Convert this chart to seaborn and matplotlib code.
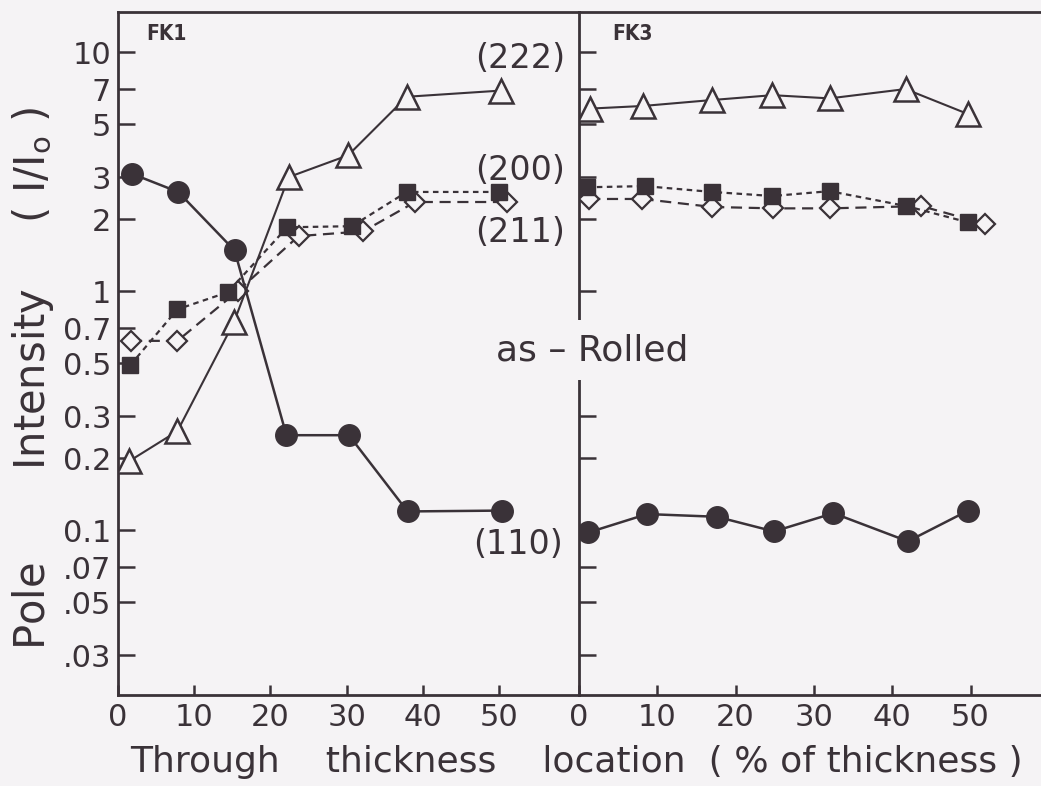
import matplotlib
matplotlib.use("Agg")
import matplotlib.pyplot as plt
import matplotlib.ticker as mticker
import seaborn as sns

# ---------------- data ----------------
# FK1 panel
fk1_x110 = [1.8, 7.9, 15.3, 22.1, 30.3, 38.0, 50.4]
fk1_y110 = [3.1, 2.6, 1.48, 0.25, 0.25, 0.12, 0.121]
fk1_x222 = [1.5, 7.8, 15.2, 22.4, 30.2, 37.9, 50.3]
fk1_y222 = [0.195, 0.26, 0.74, 3.0, 3.7, 6.5, 6.9]
fk1_x200 = [1.6, 7.8, 14.4, 22.2, 30.7, 37.9, 50.0]
fk1_y200 = [0.49, 0.84, 0.99, 1.85, 1.87, 2.6, 2.6]
fk1_x211 = [1.7, 7.8, 15.7, 23.7, 32.2, 39.0, 51.0]
fk1_y211 = [0.62, 0.62, 1.0, 1.70, 1.78, 2.36, 2.36]

# FK3 panel
fk3_x110 = [1.2, 8.7, 17.6, 24.9, 32.5, 42.0, 49.7]
fk3_y110 = [0.098, 0.117, 0.114, 0.099, 0.118, 0.090, 0.121]
fk3_x222 = [1.4, 8.2, 17.0, 24.7, 32.0, 41.7, 49.7]
fk3_y222 = [5.8, 5.95, 6.3, 6.6, 6.4, 7.0, 5.5]
fk3_x200 = [1.0, 8.4, 17.0, 24.7, 32.0, 41.8, 49.7]
fk3_y200 = [2.72, 2.75, 2.60, 2.50, 2.62, 2.27, 1.94]
fk3_x211 = [1.3, 8.1, 17.0, 24.8, 32.1, 43.7, 51.9]
fk3_y211 = [2.43, 2.43, 2.25, 2.22, 2.22, 2.27, 1.91]

y_ticks = [10, 7, 5, 3, 2, 1, 0.7, 0.5, 0.3, 0.2, 0.1, 0.07, 0.05, 0.03]
y_tick_labels = ["10", "7", "5", "3", "2", "1", "0.7", "0.5", "0.3", "0.2",
                 "0.1", ".07", ".05", ".03"]
x_ticks = [0, 10, 20, 30, 40, 50]
x_tick_labels = ["0", "10", "20", "30", "40", "50"]

panel_names = ["FK1", "FK3"]
series_labels = ["(222)", "(200)", "(211)", "(110)"]
annotation_text = "as \u2013 Rolled"
x_label = "Through    thickness    location  ( % of thickness )"
y_label = "Pole       Intensity     ( I/I$_\\mathregular{o}$ )"

# ---------------- style ----------------
sns.set_theme(style="white")
plt.rcParams["font.family"] = ["DejaVu Sans"]
INK = "#3a3238"
BG = "#f5f3f5"

W, H = 1041, 786
fig = plt.figure(figsize=(W / 100, H / 100), dpi=100, facecolor=BG)

def px_rect(x0, y0, x1, y1):
    return [x0 / W, 1 - y1 / H, (x1 - x0) / W, (y1 - y0) / H]

ax1 = fig.add_axes(px_rect(118, 12, 579, 695))
ax2 = fig.add_axes(px_rect(579, 12, 1041, 695))

panels = [
    (ax1, (fk1_x110, fk1_y110), (fk1_x222, fk1_y222), (fk1_x200, fk1_y200),
     (fk1_x211, fk1_y211), (0.0, 60.5)),
    (ax2, (fk3_x110, fk3_y110), (fk3_x222, fk3_y222), (fk3_x200, fk3_y200),
     (fk3_x211, fk3_y211), (0.0, 59.0)),
]

for ax, s110, s222, s200, s211, xlim in panels:
    ax.set_facecolor(BG)
    # (211) dashed, open diamonds
    sns.lineplot(x=s211[0], y=s211[1], ax=ax, color=INK, lw=1.6,
                 linestyle=(0, (5, 3)), marker="D", markersize=10,
                 markerfacecolor=BG, markeredgecolor=INK, markeredgewidth=1.6,
                 estimator=None, sort=False, zorder=3)
    # (200) short dashes, filled squares
    sns.lineplot(x=s200[0], y=s200[1], ax=ax, color=INK, lw=1.6,
                 linestyle=(0, (2.5, 2)), marker="s", markersize=12,
                 markerfacecolor=INK, markeredgecolor=INK, markeredgewidth=1,
                 estimator=None, sort=False, zorder=4)
    # (222) solid, open triangles
    sns.lineplot(x=s222[0], y=s222[1], ax=ax, color=INK, lw=1.5,
                 linestyle="-", marker="^", markersize=17,
                 markerfacecolor=BG, markeredgecolor=INK, markeredgewidth=1.8,
                 estimator=None, sort=False, zorder=3)
    # (110) solid, filled circles
    sns.lineplot(x=s110[0], y=s110[1], ax=ax, color=INK, lw=1.8,
                 linestyle="-", marker="o", markersize=15.5,
                 markerfacecolor=INK, markeredgecolor=INK, markeredgewidth=1,
                 estimator=None, sort=False, zorder=4)

    ax.set_yscale("log")
    ax.set_ylim(0.0205, 14.7)
    ax.set_xlim(*xlim)
    ax.set_yticks(y_ticks)
    ax.yaxis.set_minor_locator(mticker.NullLocator())
    ax.set_xticks(x_ticks)
    ax.set_xticklabels(x_tick_labels)
    ax.tick_params(axis="x", which="major", bottom=True, top=False,
                   direction="in", length=7, width=1.8, color=INK,
                   labelsize=22, pad=6, labelcolor=INK)
    ax.tick_params(axis="y", which="major", left=True, right=False,
                   direction="in", length=12, width=1.8, color=INK,
                   labelsize=22, pad=5, labelcolor=INK)
    ax.set_xlabel("")
    ax.set_ylabel("")
    for side in ["top", "bottom", "left", "right"]:
        ax.spines[side].set_color(INK)
        ax.spines[side].set_linewidth(2.0)

ax1.set_yticklabels(y_tick_labels)
ax1.spines["right"].set_visible(False)
ax2.set_yticklabels([])
ax2.spines["right"].set_visible(False)

# panel names
for name, px in zip(panel_names, (166, 632)):
    fig.text(px / W, 1 - 34 / H, name, fontsize=15, fontweight="bold",
             fontstretch="condensed", color=INK, ha="center", va="center")

# series labels
lab_pos = [(520, 59), (520, 170), (520, 232), (518, 544)]
for txt, (px, py) in zip(series_labels, lab_pos):
    fig.text(px / W, 1 - py / H, txt, fontsize=24, color=INK,
             ha="center", va="center")

fig.text(592 / W, 1 - 350 / H, annotation_text, fontsize=26, color=INK,
         ha="center", va="center",
         bbox=dict(facecolor=BG, edgecolor="none", pad=9), zorder=10)

# axis labels
fig.text(576 / W, 1 - 762 / H, x_label, fontsize=26, color=INK,
         ha="center", va="center")
fig.text(33 / W, 1 - 378 / H, y_label, fontsize=30, color=INK,
         ha="center", va="center", rotation=90)

fig.savefig("out.png", dpi=100, facecolor=BG)
